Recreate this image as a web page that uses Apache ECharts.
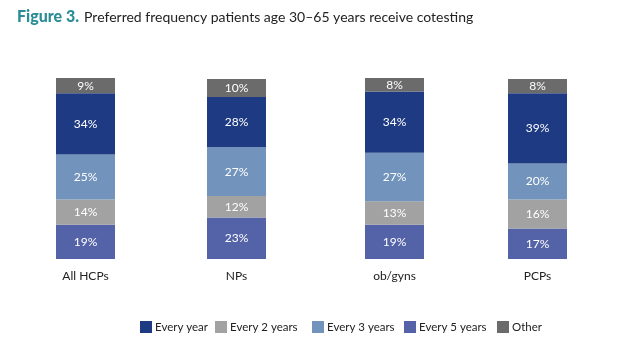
<!DOCTYPE html>
<html><head><meta charset="utf-8">
<script src="https://cdn.jsdelivr.net/npm/echarts@6/dist/echarts.min.js"></script>
<style>html,body{margin:0;padding:0;background:#fff}#c{width:626px;height:342px}</style>
</head><body><div id="c"></div>
<script>
const categories = ['All HCPs', 'NPs', 'ob/gyns', 'PCPs'];
const every5 = [19, 23, 19, 17];
const every2 = [14, 12, 13, 16];
const every3 = [25, 27, 27, 20];
const everyYear = [34, 28, 34, 39];
const other = [9, 10, 8, 8];

const colors = {
  'Every year': '#1d3a82',
  'Every 2 years': '#a2a2a2',
  'Every 3 years': '#7294bc',
  'Every 5 years': '#5462a8',
  'Other': '#6b6b6b'
};
const seriesDefs = [
  ['Every 5 years', every5],
  ['Every 2 years', every2],
  ['Every 3 years', every3],
  ['Every year', everyYear],
  ['Other', other]
];
const legendOrder = ['Every year', 'Every 2 years', 'Every 3 years', 'Every 5 years', 'Other'];
const legendLeft = [135, 210, 307, 399, 492];
const barCenters = [85.5, 236.5, 394.5, 537.5];
const slotW = 100;

const grids = [], xAxes = [], yAxes = [], series = [];
categories.forEach((cat, i) => {
  grids.push({left: barCenters[i] - slotW / 2, width: slotW, top: 78, bottom: 83});
  xAxes.push({
    type: 'category', gridIndex: i, data: [cat],
    axisLine: {show: false}, axisTick: {show: false},
    axisLabel: {fontFamily: 'Lato', fontSize: 12, color: '#222', margin: 11}
  });
  yAxes.push({type: 'value', gridIndex: i, min: 0, max: 100.5, show: false, splitLine: {show: false}});
  seriesDefs.forEach(([name, data]) => {
    series.push({
      name, type: 'bar', stack: 's' + i, xAxisIndex: i, yAxisIndex: i,
      data: [data[i]], barWidth: 59,
      itemStyle: {color: colors[name]},
      label: {show: true, position: 'inside', formatter: '{c}%', color: '#fff',
        fontFamily: 'Lato', fontSize: 12}
    });
  });
});

const chart = echarts.init(document.getElementById('c'));
chart.setOption({
  animation: false,
  title: {
    left: 12, top: 3,
    text: '{a|Figure 3.} {b|Preferred frequency patients age 30–65 years receive cotesting}',
    textStyle: {
      fontWeight: 'normal',
      rich: {
        a: {fontFamily: 'Lato', fontWeight: 900, fontSize: 16, color: '#2b8d96'},
        b: {fontFamily: 'Lato', fontWeight: 'normal', fontSize: 14, color: '#222'}
      }
    }
  },
  legend: legendOrder.map((n, i) => ({
    data: [n], left: legendLeft[i], top: 316,
    itemWidth: 12, itemHeight: 12, itemGap: 4,
    icon: 'rect',
    textStyle: {fontFamily: 'Lato', fontSize: 11.5, color: '#222', padding: [2, 0, 0, -2]}
  })),
  grid: grids,
  xAxis: xAxes,
  yAxis: yAxes,
  series
});
</script></body></html>
